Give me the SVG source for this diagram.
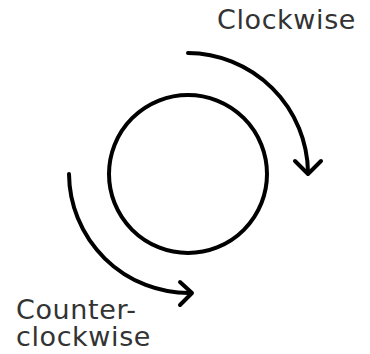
<svg xmlns="http://www.w3.org/2000/svg" width="370" height="354" viewBox="0 0 370 354">
<style>
.ln{fill:none;stroke:#000;stroke-width:4;stroke-linecap:round;stroke-linejoin:round}
.t{font-family:"DejaVu Sans",sans-serif;font-size:27px;letter-spacing:0.6px;fill:#333}
</style>
<rect width="370" height="354" fill="#fff"/>
<g id="circle"><circle class="ln" cx="188" cy="174" r="79"/></g>
<g id="connectors">
<path class="ln" d="M188 53 A121 121 0 0 1 308 172"/>
<path class="ln" d="M295 161 L308 174 L321 161"/>
<path class="ln" d="M69 174 A120 120 0 0 0 190 293"/>
<path class="ln" d="M180 282 L192 293 L180 305"/>
</g>
<g id="label-cw"><text class="t" x="217" y="29">Clockwise</text></g>
<g id="label-ccw"><text class="t" x="16" y="319">Counter-</text><text class="t" x="16" y="346">clockwise</text></g>
</svg>
